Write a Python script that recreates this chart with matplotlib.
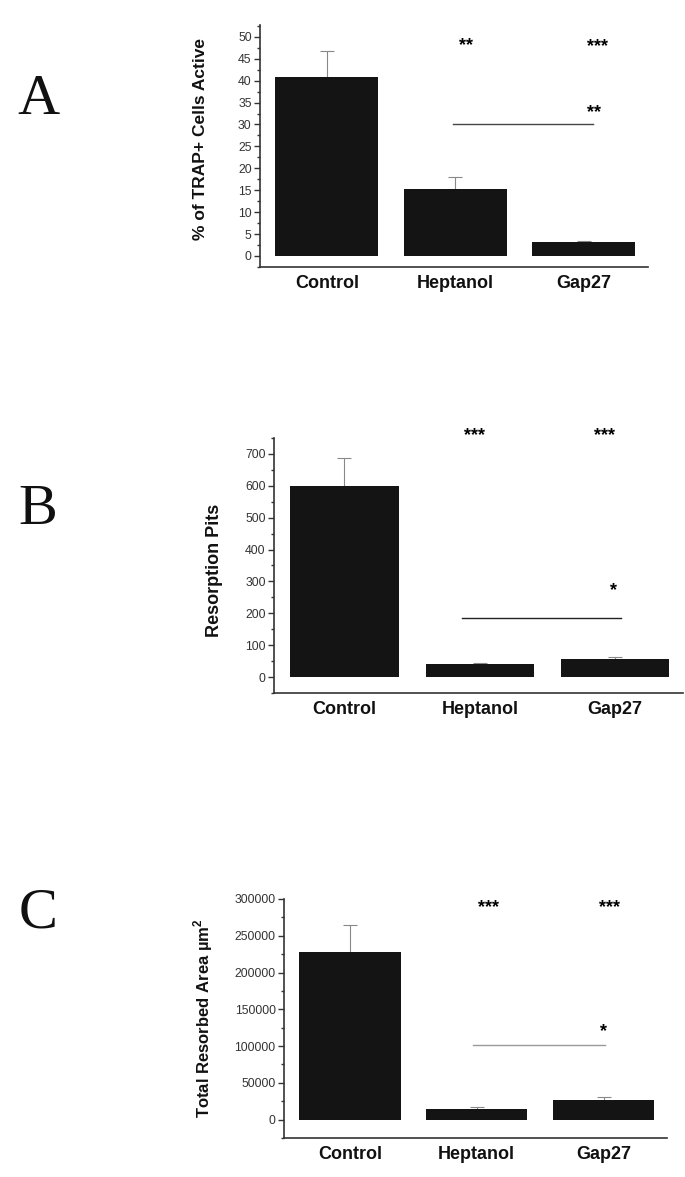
import matplotlib.pyplot as plt
from matplotlib.ticker import MultipleLocator
import numpy as np

plt.rcParams['font.family'] = ['Liberation Sans', 'DejaVu Sans']

# datos
grupos = ['Control', 'Heptanol', 'Gap27']

trap_activas = [40.8, 15.2, 3.3]
trap_err = [6.0, 2.8, 0.2]

fosas = [600, 42, 58]
fosas_err = [87, 3, 5]

area = [228000, 14000, 27000]
area_err = [36000, 3000, 4000]

# asteriscos de significancia (x en posicion de grupo, y en unidades del eje)
sig_a = [('**', 1.08, 48.0), ('***', 2.11, 47.7), ('**', 2.08, 32.6)]
linea_a = (0.98, 2.07, 30)
sig_b = [('***', 0.96, 758), ('***', 1.92, 758), ('*', 1.99, 272)]
linea_b = (0.87, 2.04, 185)
sig_c = [('***', 1.09, 288000), ('***', 2.05, 288000), ('*', 2.0, 120000)]
linea_c = (0.97, 2.01, 101000)

fig = plt.figure(figsize=(6.85, 11.77), dpi=100)

paneles = [
    # rect, valores, errores, ylim, mayor, menor, ylabel, tamano, etiqueta, sig, linea, color linea
    ([0.3796, 0.7732, 0.5664, 0.2056], trap_activas, trap_err, (-2.5, 52.7), 5, 2.5,
     '% of TRAP+ Cells Active', 12.5, 'A', sig_a, linea_a, '#444444', (38, 100), (0.135, 0.53)),
    ([0.4000, 0.4112, 0.5970, 0.2167], fosas, fosas_err, (-50, 750), 100, 50,
     'Resorption Pits', 13, 'B', sig_b, linea_b, '#222222', (38, 510), (0.125, 0.48)),
    ([0.4146, 0.0331, 0.5590, 0.2031], area, area_err, (-25000, 300000), 50000, 25000,
     r'Total Resorbed Area µm$^\mathregular{2}$', 12, 'C', sig_c, linea_c, '#999999', (38, 913), (0.18, 0.5)),
]

x = np.arange(len(grupos))

for rect, vals, errs, ylim, mayor, menor, ylab, tam, letra, sig, linea, clinea, pos_letra, xylab in paneles:
    ax = fig.add_axes(rect)
    ax.bar(x, vals, width=0.8, color='#141414', zorder=2)
    ax.errorbar(x, vals, yerr=errs, fmt='none', ecolor='#888888', elinewidth=0.8,
                capsize=5, capthick=0.8, zorder=1)
    ax.set_xlim(-0.52, 2.5)
    ax.set_ylim(*ylim)
    ax.yaxis.set_major_locator(MultipleLocator(mayor))
    ax.yaxis.set_minor_locator(MultipleLocator(menor))
    ax.set_yticks([t for t in ax.get_yticks() if 0 <= t <= ylim[1]])
    ax.set_ylim(*ylim)
    ax.set_xticks(x)
    ax.set_xticklabels(grupos, fontsize=13, fontweight='bold', color='#111111')
    ax.tick_params(axis='x', length=0, pad=6)
    ax.tick_params(axis='y', which='major', length=4, width=1, labelsize=8.8,
                   labelcolor='#333333', color='#333333', pad=2)
    ax.tick_params(axis='y', which='minor', length=2.5, width=1, color='#333333')
    for lado in ['top', 'right']:
        ax.spines[lado].set_visible(False)
    for lado in ['left', 'bottom']:
        ax.spines[lado].set_color('#333333')
        ax.spines[lado].set_linewidth(1.2)
    ax.set_ylabel(ylab, fontsize=tam, fontweight='bold', color='#111111')
    ax.yaxis.set_label_coords(-xylab[0], xylab[1])

    for txt, sx, sy in sig:
        ax.text(sx, sy, txt, ha='center', va='center', fontsize=13, fontweight='bold',
                clip_on=False)
    ax.plot([linea[0], linea[1]], [linea[2], linea[2]], color=clinea, lw=1.0)

    fig.text(pos_letra[0] / 685, 1 - pos_letra[1] / 1177, letra, family='Liberation Serif',
             fontsize=42, ha='center', va='center', color='#111111')

fig.savefig('out.png', dpi=100)
